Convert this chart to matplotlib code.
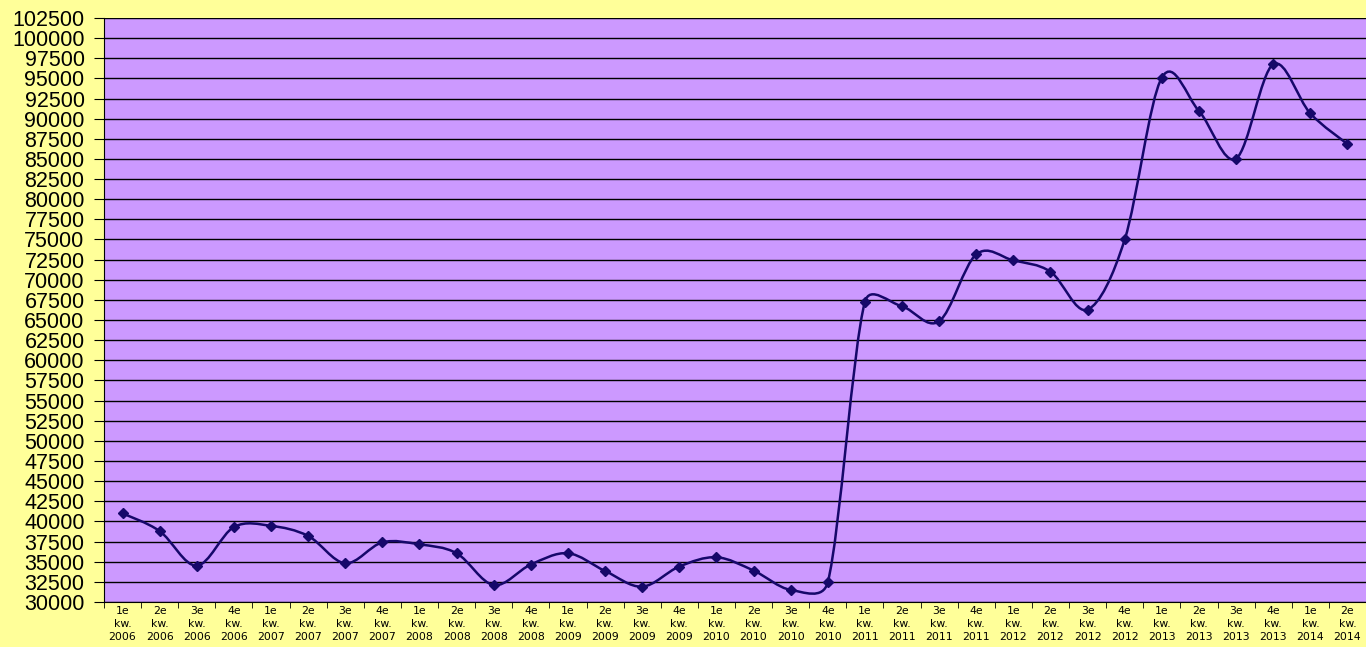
import numpy as np
import matplotlib.pyplot as plt
from matplotlib.path import Path
from matplotlib.patches import PathPatch

quarters = ['1e', '2e', '3e', '4e']
years = [2006, 2007, 2008, 2009, 2010, 2011, 2012, 2013, 2014]
labels = [q + '\nkw.\n' + str(y) for y in years for q in quarters][:34]

values = [41000, 38800, 34500, 39300, 39450, 38200, 34800, 37400,
          37150, 36050, 32100, 34650, 36050, 33850, 31900, 34400,
          35550, 33900, 31500, 32450, 67250, 66700, 64850, 73150,
          72400, 71000, 66300, 75000, 95100, 90950, 85050, 96750,
          90650, 86850]

yticks = list(range(30000, 102501, 2500))

bg = '#FFFF99'
plotbg = '#CC99FF'
linecol = '#16086A'

fig = plt.figure(figsize=(13.66, 6.47), dpi=100, facecolor=bg)
ax = fig.add_axes([0.0761, 0.0696, 0.9239, 0.9026])
ax.set_facecolor(plotbg)

x = np.arange(len(values))
y = np.array(values, dtype=float)

ax.set_xlim(-0.5, len(values) - 0.5)
ax.set_ylim(30000, 102500)

# spreadsheet-style smoothed line: bezier segments, control arms limited
# to half the segment length (worked out in screen space)
pts = ax.transData.transform(np.column_stack([x, y]))
ext = np.vstack([pts[0], pts, pts[-1]])
verts = [pts[0]]
codes = [Path.MOVETO]
for i in range(1, len(ext) - 2):
    p0, p1, p2, p3 = ext[i - 1], ext[i], ext[i + 1], ext[i + 2]
    d12 = np.hypot(*(p2 - p1))
    t1 = (p2 - p0) / 6
    t2 = (p3 - p1) / 6
    n1 = np.hypot(*t1)
    n2 = np.hypot(*t2)
    if n1 > d12 / 2:
        t1 = t1 * (d12 / 2) / n1
    if n2 > d12 / 2:
        t2 = t2 * (d12 / 2) / n2
    verts += [p1 + t1, p2 - t2, p2]
    codes += [Path.CURVE4] * 3
verts = ax.transData.inverted().transform(np.array(verts))
ax.add_patch(PathPatch(Path(verts, codes), facecolor='none', edgecolor=linecol,
                       lw=1.8, zorder=3))
ax.plot(x, y, ls='none', marker='D', ms=5.5, color=linecol, zorder=4)

ax.set_yticks(yticks)
ax.set_yticklabels([str(v) for v in yticks], fontsize=15.5, family='Liberation Sans')
ax.yaxis.grid(True, color='black', lw=1)
ax.set_axisbelow(True)

ax.set_xticks(x)
ax.set_xticklabels(labels, fontsize=7.8, family='DejaVu Sans', linespacing=1.35)
ax.set_xticks(np.arange(-0.5, len(values), 1), minor=True)
ax.tick_params(axis='x', which='major', length=0, pad=3)
ax.tick_params(axis='x', which='minor', length=4, color='black')
ax.tick_params(axis='y', length=7, pad=7, color='black')

for s in ['top', 'right']:
    ax.spines[s].set_visible(False)
ax.spines['left'].set_color('black')
ax.spines['bottom'].set_color('black')

fig.savefig('out.png', dpi=100, facecolor=bg)
